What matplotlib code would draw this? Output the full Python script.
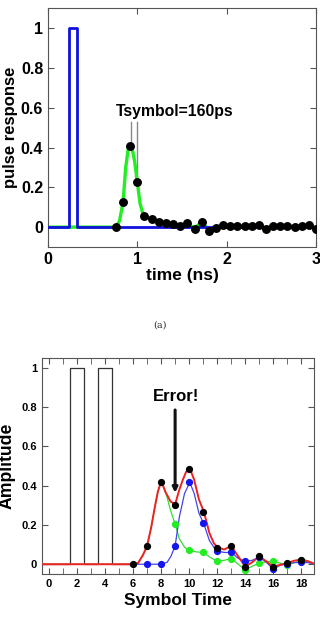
import matplotlib
matplotlib.use("Agg")
import matplotlib.pyplot as plt
from matplotlib.ticker import MultipleLocator

plt.rcParams['font.family'] = ['Liberation Sans', 'DejaVu Sans']
plt.rcParams['font.weight'] = 'bold'

# ---- top panel: pulse response (time in ns)
pulse_t = [0, 0.24, 0.24, 0.32, 0.32, 3.0]
pulse_v = [0, 0, 1, 1, 0, 0]

resp_t = [0, 0.72, 0.76, 0.80, 0.84, 0.87, 0.90, 0.92, 0.94, 0.97, 1.00,
          1.03, 1.06, 1.08, 1.12, 1.16, 1.24, 1.32, 1.40, 1.48, 1.56, 1.64,
          1.72, 1.80, 1.88, 1.96, 2.04, 2.12, 2.20, 2.28, 2.36, 2.44, 2.52,
          2.60, 2.68, 2.76, 2.84, 2.92, 3.00]
resp_v = [0, 0, 0, 0.03, 0.125, 0.30, 0.40, 0.41, 0.40, 0.33, 0.225,
          0.12, 0.07, 0.055, 0.046, 0.04, 0.028, 0.02, 0.015, 0.008, 0.02, -0.007,
          0.028, -0.018, -0.003, 0.012, 0.007, 0.007, 0.008, 0.005, 0.01, -0.007, 0.008,
          0.007, 0.007, 0.003, 0.005, 0.01, -0.01]

samp_t = [0.76, 0.84, 0.92, 1.00, 1.08, 1.16, 1.24, 1.32, 1.40, 1.48, 1.56,
          1.64, 1.72, 1.80, 1.88, 1.96, 2.04, 2.12, 2.20, 2.28, 2.36, 2.44,
          2.52, 2.60, 2.68, 2.76, 2.84, 2.92, 3.00]
samp_v = [0, 0.125, 0.41, 0.225, 0.054, 0.04, 0.028, 0.02, 0.015, 0.008, 0.02,
          -0.007, 0.028, -0.018, -0.003, 0.012, 0.007, 0.007, 0.008, 0.005, 0.01, -0.007,
          0.008, 0.007, 0.007, 0.003, 0.005, 0.01, -0.01]

# ---- bottom panel: symbol time
bits_t = [-0.5, 1.5, 1.5, 2.5, 2.5, 3.5, 3.5, 4.5, 4.5, 6.0]
bits_v = [0, 0, 1, 1, 0, 0, 1, 1, 0, 0]

red_t = [-0.5, 6, 6.35, 6.7, 7, 7.3, 7.55, 7.77, 7.95, 8.05, 8.3, 8.67, 9, 9.3, 9.55, 9.78,
         10.05, 10.36, 10.7, 11.05, 11.45, 11.76, 12.05, 12.5, 13, 13.5, 14, 14.5, 15,
         15.5, 16, 16.5, 17, 17.5, 18, 18.5, 19]
red_v = [0, 0, 0.005, 0.046, 0.093, 0.19, 0.29, 0.37, 0.41, 0.417, 0.37, 0.32, 0.305, 0.38,
         0.43, 0.47, 0.488, 0.43, 0.33, 0.267, 0.158, 0.107, 0.085, 0.075, 0.093, 0.04,
         -0.012, 0.01, 0.04, 0.015, -0.012, -0.003, 0.006, 0.018, 0.024, 0.015, 0]

green_t = [-0.5, 6, 6.35, 6.7, 7, 7.3, 7.55, 7.77, 7.95, 8.05, 8.2, 8.43, 8.67, 9, 9.3,
           9.67, 10, 10.5, 11, 11.5, 12, 12.5, 13, 13.5, 14, 14.5, 15, 15.5, 16, 16.5,
           17, 17.5, 18, 18.5, 19]
green_v = [0, 0, 0.005, 0.046, 0.093, 0.19, 0.29, 0.37, 0.41, 0.417, 0.39, 0.34, 0.275,
           0.205, 0.13, 0.087, 0.07, 0.063, 0.06, 0.035, 0.015, 0.02, 0.029, 0.0, -0.029,
           -0.01, 0.005, 0.012, 0.015, 0.005, -0.003, 0.008, 0.019, 0.01, 0]

blue_t = [6.3, 7, 8, 8.43, 8.7, 9, 9.3, 9.67, 10.05, 10.36, 10.7, 11.05, 11.45, 11.76,
          12, 12.5, 13, 13.5, 14, 14.5, 15, 15.5, 16, 16.5, 17, 17.5, 18, 18.5, 19]
blue_v = [0, 0, 0, 0.01, 0.04, 0.093, 0.24, 0.36, 0.417, 0.36, 0.26, 0.205, 0.12, 0.087,
          0.068, 0.06, 0.06, 0.03, 0.014, 0.02, 0.036, 0.01, -0.025, -0.005, 0.002,
          0.008, 0.01, 0.008, 0]

sym_t = [6, 7, 8, 9, 10, 11, 12, 13, 14, 15, 16, 17, 18]
black_pts = [0, 0.093, 0.417, 0.30, 0.485, 0.268, 0.085, 0.093, -0.012, 0.04, -0.012, 0.005, 0.022]
blue_pts = [None, 0, 0, 0.093, 0.417, 0.21, 0.068, 0.06, 0.014, 0.036, -0.025, 0.002, 0.01]
green_pts = [None, None, None, 0.205, 0.07, 0.06, 0.015, 0.029, -0.029, 0.005, 0.015, -0.003, 0.019]

fig = plt.figure(figsize=(3.2, 6.35), dpi=100)

frame_col = '#555555'

# top
ax1 = fig.add_axes([0.15, 0.611, 0.8375, 0.376])
ax1.plot(resp_t, resp_v, color='#22ee22', lw=2.4, zorder=2)
ax1.plot(pulse_t, pulse_v, color='#1010dd', lw=2.0, zorder=3)
ax1.plot(samp_t, samp_v, 'o', color='black', ms=5.4, zorder=4)
ax1.plot([0.925, 0.925], [0.41, 0.53], color='#888888', lw=1, zorder=1)
ax1.plot([0.998, 0.998], [0.225, 0.53], color='#888888', lw=1, zorder=1)
ax1.text(1.42, 0.58, 'Tsymbol=160ps', ha='center', va='center', fontsize=11.3, fontweight='bold')
ax1.set_xlim(0, 3)
ax1.set_ylim(-0.1, 1.1)
ax1.set_xticks([0, 1, 2, 3])
ax1.set_yticks([0, 0.2, 0.4, 0.6, 0.8, 1])
ax1.set_yticklabels(['0', '0.2', '0.4', '0.6', '0.8', '1'])
ax1.tick_params(direction='in', top=True, right=True, labelsize=11.5, length=4, color=frame_col)
ax1.set_xlabel('time (ns)', fontsize=12.5, fontweight='bold', labelpad=1)
ax1.set_ylabel('pulse response', fontsize=12, fontweight='bold', labelpad=2)
for s in ax1.spines.values():
    s.set_color(frame_col)

fig.text(0.5, 0.488, '(a)', ha='center', va='center', fontsize=7, family='DejaVu Serif',
         fontweight='normal', color='#333333')

# bottom
ax2 = fig.add_axes([0.131, 0.096, 0.85, 0.34])
ax2.plot(bits_t, bits_v, color='#333333', lw=0.9, zorder=2)
ax2.plot(green_t, green_v, color='#33dd33', lw=0.9, zorder=3)
ax2.plot(blue_t, blue_v, color='#4444ee', lw=0.9, zorder=3)
ax2.plot(red_t, red_v, color='#ee2222', lw=1.4, zorder=4)
gx = [t for t, v in zip(sym_t, green_pts) if v is not None]
gy = [v for v in green_pts if v is not None]
bx = [t for t, v in zip(sym_t, blue_pts) if v is not None]
by = [v for v in blue_pts if v is not None]
ax2.plot(gx, gy, 'o', color='#22ee22', ms=4.2, zorder=5)
ax2.plot(bx, by, 'o', color='#1515ee', ms=4.2, zorder=5)
ax2.plot(sym_t, black_pts, 'o', color='black', ms=4.2, zorder=6)
ax2.annotate('', xy=(9, 0.35), xytext=(9, 0.8),
             arrowprops=dict(arrowstyle='-|>', color='#111111', lw=2.2, mutation_scale=7))
ax2.text(9.1, 0.855, 'Error!', ha='center', va='center', fontsize=12, fontweight='bold')
ax2.set_xlim(-0.5, 18.9)
ax2.set_ylim(-0.05, 1.05)
ax2.xaxis.set_major_locator(MultipleLocator(2))
ax2.xaxis.set_minor_locator(MultipleLocator(1))
ax2.set_yticks([0, 0.2, 0.4, 0.6, 0.8, 1])
ax2.set_yticklabels(['0', '0.2', '0.4', '0.6', '0.8', '1'])
ax2.tick_params(which='both', direction='in', top=True, right=True, labelsize=8,
                length=4, color=frame_col)
ax2.set_xlabel('Symbol Time', fontsize=12.5, fontweight='bold', labelpad=3)
ax2.set_ylabel('Amplitude', fontsize=12.7, fontweight='bold', labelpad=4)
for s in ax2.spines.values():
    s.set_color(frame_col)

fig.savefig('out.png', dpi=100)
